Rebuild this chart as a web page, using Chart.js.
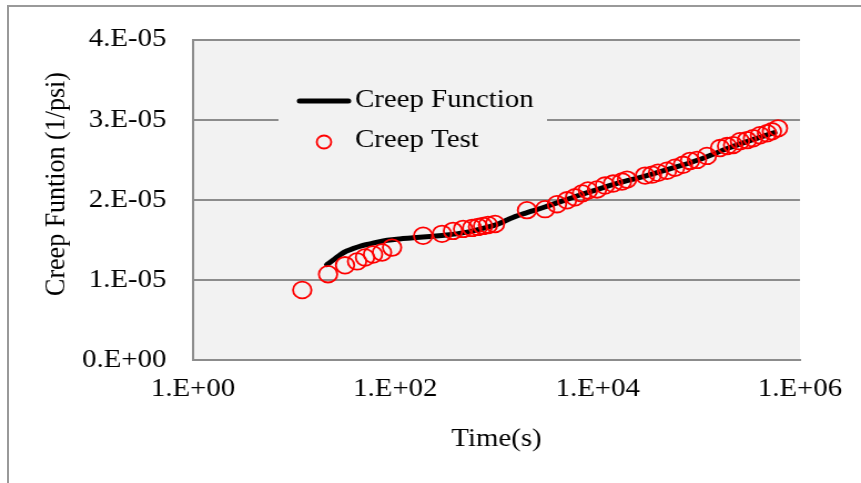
<!DOCTYPE html>
<html>
<head>
<meta charset="utf-8">
<title>Creep Function</title>
<script src="https://cdn.jsdelivr.net/npm/chart.js@4.4.1/dist/chart.umd.min.js"></script>
<style>
  html, body { margin: 0; padding: 0; background: #fff; overflow: hidden; }
  #frame { position: absolute; left: 7px; top: 5px; width: 1000px; height: 1000px; border: 2px solid #999; }
  #creepChart { position: absolute; left: 0; top: 0; }
</style>
</head>
<body>
<div id="frame"></div>
<!-- drawn narrow and stretched to full width -->
<canvas id="creepChart" width="776" height="483" style="width:861px;height:483px"></canvas>
<script>
// Creep test measurements: time (s) and compliance (1/psi)
const testTime = [12, 21.6, 31.8, 41.8, 50.1, 60.1, 73.8, 92.7, 188, 289, 371, 467, 573, 656, 735, 824, 966,
  2000, 3015, 3960, 4975, 5970, 7000, 8020, 9850, 11800, 14200, 17400, 19500, 29400, 34400, 39500, 48400,
  58100, 69700, 81800, 95900, 120000, 162000, 190000, 218000, 255000, 299000, 343000, 402000, 472000, 528000, 606000];
const testCompliance = [0.874e-5, 1.071e-5, 1.182e-5, 1.231e-5, 1.280e-5, 1.317e-5, 1.342e-5, 1.403e-5, 1.551e-5,
  1.575e-5, 1.612e-5, 1.637e-5, 1.649e-5, 1.662e-5, 1.674e-5, 1.686e-5, 1.698e-5,
  1.871e-5, 1.883e-5, 1.945e-5, 1.994e-5, 2.031e-5, 2.080e-5, 2.117e-5, 2.129e-5, 2.178e-5, 2.203e-5, 2.228e-5,
  2.252e-5, 2.302e-5, 2.314e-5, 2.338e-5, 2.363e-5, 2.400e-5, 2.437e-5, 2.486e-5, 2.498e-5, 2.548e-5, 2.646e-5,
  2.671e-5, 2.683e-5, 2.732e-5, 2.745e-5, 2.769e-5, 2.806e-5, 2.831e-5, 2.855e-5, 2.892e-5];

// Fitted creep function
const curveTime = [21, 25, 28.5, 33, 38, 46, 56, 68, 83, 110, 150, 220, 320, 480, 690, 1000, 1450, 2000, 3000,
  6700, 15000, 30000, 60000, 100000, 200000, 400000, 560000];
const curveCompliance = [1.19e-5, 1.26e-5, 1.315e-5, 1.36e-5, 1.39e-5, 1.425e-5, 1.45e-5, 1.475e-5, 1.495e-5,
  1.512e-5, 1.525e-5, 1.543e-5, 1.56e-5, 1.59e-5, 1.635e-5, 1.69e-5, 1.78e-5, 1.84e-5, 1.91e-5,
  2.06e-5, 2.2e-5, 2.3e-5, 2.41e-5, 2.5e-5, 2.65e-5, 2.78e-5, 2.84e-5];

const xTickValues = [1, 1e2, 1e4, 1e6];
const xTickLabels = ["1.E+00", "1.E+02", "1.E+04", "1.E+06"];
const yTickValues = [0, 1e-5, 2e-5, 3e-5, 4e-5];
const yTickLabels = ["0.E+00", "1.E-05", "2.E-05", "3.E-05", "4.E-05"];

const yAxisTitle = "Creep Funtion (1/psi)";
const xAxisTitle = "Time(s)";

const serif = { family: "'Liberation Serif', 'Times New Roman', serif", size: 26 };
const gridGray = "#8c8c8c";

const testPoints = testTime.map((t, i) => ({ x: t, y: testCompliance[i] }));
const curvePoints = curveTime.map((t, i) => ({ x: t, y: curveCompliance[i] }));

// grey plot area behind the grid
const plotBackground = {
    id: "plotBackground",
    beforeDraw(chart) {
        const { ctx, chartArea: a } = chart;
        ctx.save();
        ctx.fillStyle = "#f2f2f2";
        ctx.fillRect(a.left, a.top, a.right - a.left, a.bottom - a.top);
        ctx.restore();
    }
};

// legend box inside the plot, plus the rotated y title
const insetLegend = {
    id: "insetLegend",
    afterDraw(chart) {
        const ctx = chart.ctx;
        const [curve, test] = chart.data.datasets;
        ctx.save();
        ctx.fillStyle = "#f2f2f2";
        ctx.fillRect(251, 80, 242, 80);

        ctx.strokeStyle = curve.borderColor;
        ctx.lineWidth = 5;
        ctx.lineCap = "round";
        ctx.beginPath();
        ctx.moveTo(270, 101);
        ctx.lineTo(314, 101);
        ctx.stroke();

        ctx.strokeStyle = test.borderColor;
        ctx.lineWidth = 1.8;
        ctx.beginPath();
        ctx.arc(292, 142, 6.5, 0, Math.PI * 2);
        ctx.stroke();

        ctx.fillStyle = "#000";
        ctx.font = `${serif.size}px ${serif.family}`;
        ctx.textAlign = "left";
        ctx.textBaseline = "middle";
        ctx.fillText(curve.label, 320, 100);
        ctx.fillText(test.label, 320, 140);

        ctx.translate(51.5, 184);
        ctx.rotate(-Math.PI / 2);
        ctx.textAlign = "center";
        ctx.fillText(yAxisTitle, 0, 0);
        ctx.restore();
    }
};

new Chart(document.getElementById("creepChart"), {
    type: "scatter",
    data: {
        datasets: [
            {
                label: "Creep Function",
                data: curvePoints,
                showLine: true,
                borderColor: "#000",
                borderWidth: 5,
                borderCapStyle: "round",
                cubicInterpolationMode: "monotone",
                pointRadius: 0,
                order: 2
            },
            {
                label: "Creep Test",
                data: testPoints,
                showLine: false,
                borderColor: "#ff0000",
                backgroundColor: "rgba(0,0,0,0)",
                pointStyle: "circle",
                pointRadius: 8.3,
                borderWidth: 1.8,
                order: 1
            }
        ]
    },
    options: {
        responsive: false,
        animation: false,
        events: [],
        layout: { padding: { top: 35, right: 55, left: 0, bottom: 0 } },
        plugins: {
            legend: { display: false },
            tooltip: { enabled: false }
        },
        scales: {
            x: {
                type: "logarithmic",
                min: 1,
                max: 1e6,
                afterBuildTicks: s => { s.ticks = xTickValues.map(v => ({ value: v })); },
                afterFit: s => { s.height = 123; },
                grid: { display: false, drawTicks: false },
                border: { display: true, color: gridGray, width: 2 },
                ticks: {
                    padding: 14,
                    color: "#000",
                    font: serif,
                    autoSkip: false,
                    maxRotation: 0,
                    callback: (v, i) => xTickLabels[i]
                },
                title: { display: true, text: xAxisTitle, color: "#000", font: serif, padding: { top: 0, bottom: 28 } }
            },
            y: {
                min: 0,
                max: 4e-5,
                afterBuildTicks: s => { s.ticks = yTickValues.map(v => ({ value: v })); },
                afterFit: s => { s.width = 174; },
                grid: { color: gridGray, lineWidth: 2, drawTicks: false },
                border: { display: true, color: gridGray, width: 2 },
                ticks: {
                    padding: 24,
                    color: "#000",
                    font: serif,
                    callback: (v, i) => yTickLabels[i]
                }
            }
        }
    },
    plugins: [plotBackground, insetLegend]
});
</script>
</body>
</html>
